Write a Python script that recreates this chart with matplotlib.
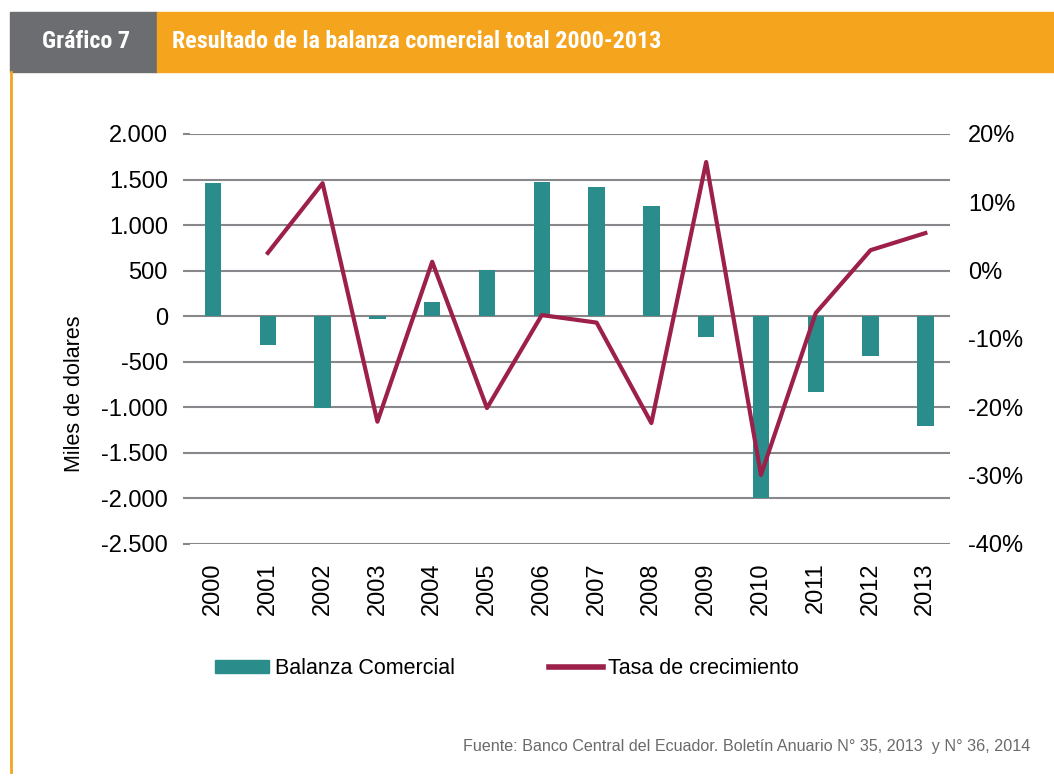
import matplotlib.pyplot as plt
from matplotlib import font_manager
from matplotlib.patches import Rectangle
from matplotlib.lines import Line2D
import numpy as np

years = ["2000", "2001", "2002", "2003", "2004", "2005", "2006",
         "2007", "2008", "2009", "2010", "2011", "2012", "2013"]

# Balanza comercial (miles de dolares)
balanza = [1460, -320, -1010, -30, 155, 505, 1470,
           1420, 1210, -230, -1990, -835, -440, -1200]

# Tasa de crecimiento (%), sin dato en 2000
tasa = [np.nan, 2.6, 12.8, -22.1, 1.3, -20.1, -6.5,
        -7.6, -22.3, 15.9, -29.9, -6.2, 3.0, 5.5]

left_ticks = [2000, 1500, 1000, 500, 0, -500, -1000, -1500, -2000, -2500]
left_labels = ["2.000", "1.500", "1.000", "500", "0", "-500",
               "-1.000", "-1.500", "-2.000", "-2.500"]
right_ticks = [20, 10, 0, -10, -20, -30, -40]
right_labels = ["20%", "10%", "0%", "-10%", "-20%", "-30%", "-40%"]

TEAL = "#2b8c8c"
MAROON = "#9c2049"
ORANGE = "#f5a41d"
GRAY_HEAD = "#6c6d70"
GRID = "#88888c"

plt.rcParams["font.family"] = ["Liberation Sans", "DejaVu Sans"]

# fuente estrecha para el encabezado si existe
installed = {f.name for f in font_manager.fontManager.ttflist}
narrow_name = None
for name in ["Liberation Sans Narrow", "DejaVu Sans Condensed",
             "Roboto Condensed", "Open Sans Condensed"]:
    if name in installed:
        narrow_name = name
        break
if narrow_name:
    head_family = [narrow_name, "DejaVu Sans"]
    head_size = 17.3
else:
    head_family = ["Liberation Sans", "DejaVu Sans"]
    head_size = 15

fig = plt.figure(figsize=(10.54, 7.8), dpi=100)
fig.patch.set_facecolor("white")

# encabezado
fig.patches.append(Rectangle((10 / 1054, 1 - 72 / 780), 147 / 1054, 60 / 780,
                             transform=fig.transFigure, color=GRAY_HEAD))
fig.patches.append(Rectangle((157 / 1054, 1 - 72 / 780), 897 / 1054, 60 / 780,
                             transform=fig.transFigure, color=ORANGE))
fig.lines.append(Line2D([10.5 / 1054, 10.5 / 1054], [1 - 72 / 780, 1 - 772 / 780],
                        transform=fig.transFigure, color=ORANGE, lw=2))
fig.text(42 / 1054, 1 - 42 / 780, "Gráfico 7", color="white", fontsize=head_size,
         fontweight="bold", va="center", ha="left", family=head_family)
fig.text(172 / 1054, 1 - 42 / 780, "Resultado de la balanza comercial total 2000-2013",
         color="white", fontsize=head_size, fontweight="bold", va="center",
         ha="left", family=head_family)

ax = fig.add_axes([190 / 1054, 1 - 544 / 780, 760 / 1054, 410 / 780])
x = np.arange(len(years))

ax.bar(x, balanza, width=0.3, color=TEAL, zorder=2)
ax.set_ylim(-2500, 2000)
ax.set_xlim(-0.42, 13.45)
ax.set_yticks(left_ticks)
ax.set_yticklabels(left_labels, fontsize=17)
ax.set_xticks(x)
ax.set_xticklabels(years, rotation=90, fontsize=17)
ax.tick_params(axis="x", length=0, pad=13)
ax.tick_params(axis="y", length=5, color=GRID, width=1.5, pad=11)
ax.grid(axis="y", color=GRID, lw=1.5, zorder=1)
ax.set_axisbelow(True)
for s in ax.spines.values():
    s.set_visible(False)
ax.set_ylabel("Miles de dolares", fontsize=15.5)
ax.yaxis.set_label_coords(-0.138, 0.366)

ax2 = ax.twinx()
ax2.plot(x, tasa, color=MAROON, lw=3, zorder=3)
ax2.set_ylim(-40, 20)
ax2.set_yticks(right_ticks)
ax2.set_yticklabels(right_labels, fontsize=17)
ax2.tick_params(axis="y", length=0, pad=13)
for s in ax2.spines.values():
    s.set_visible(False)

# leyenda
handles = [Rectangle((0, 0), 1, 1, color=TEAL),
           Line2D([0], [0], color=MAROON, lw=4)]
fig.legend(handles, ["Balanza Comercial", "Tasa de crecimiento"],
           loc="center left", bbox_to_anchor=(196 / 1054, 1 - 669 / 780),
           ncol=2, frameon=False, fontsize=15.5, handlelength=2.5,
           handleheight=0.55, handletextpad=0.25, columnspacing=4.4)

fig.text(1030 / 1054, 1 - 746 / 780,
         "Fuente: Banco Central del Ecuador. Boletín Anuario N° 35, 2013  y N° 36, 2014",
         color="#6a6a6a", fontsize=11.6, ha="right", va="center")

fig.savefig("out.png", dpi=100)
